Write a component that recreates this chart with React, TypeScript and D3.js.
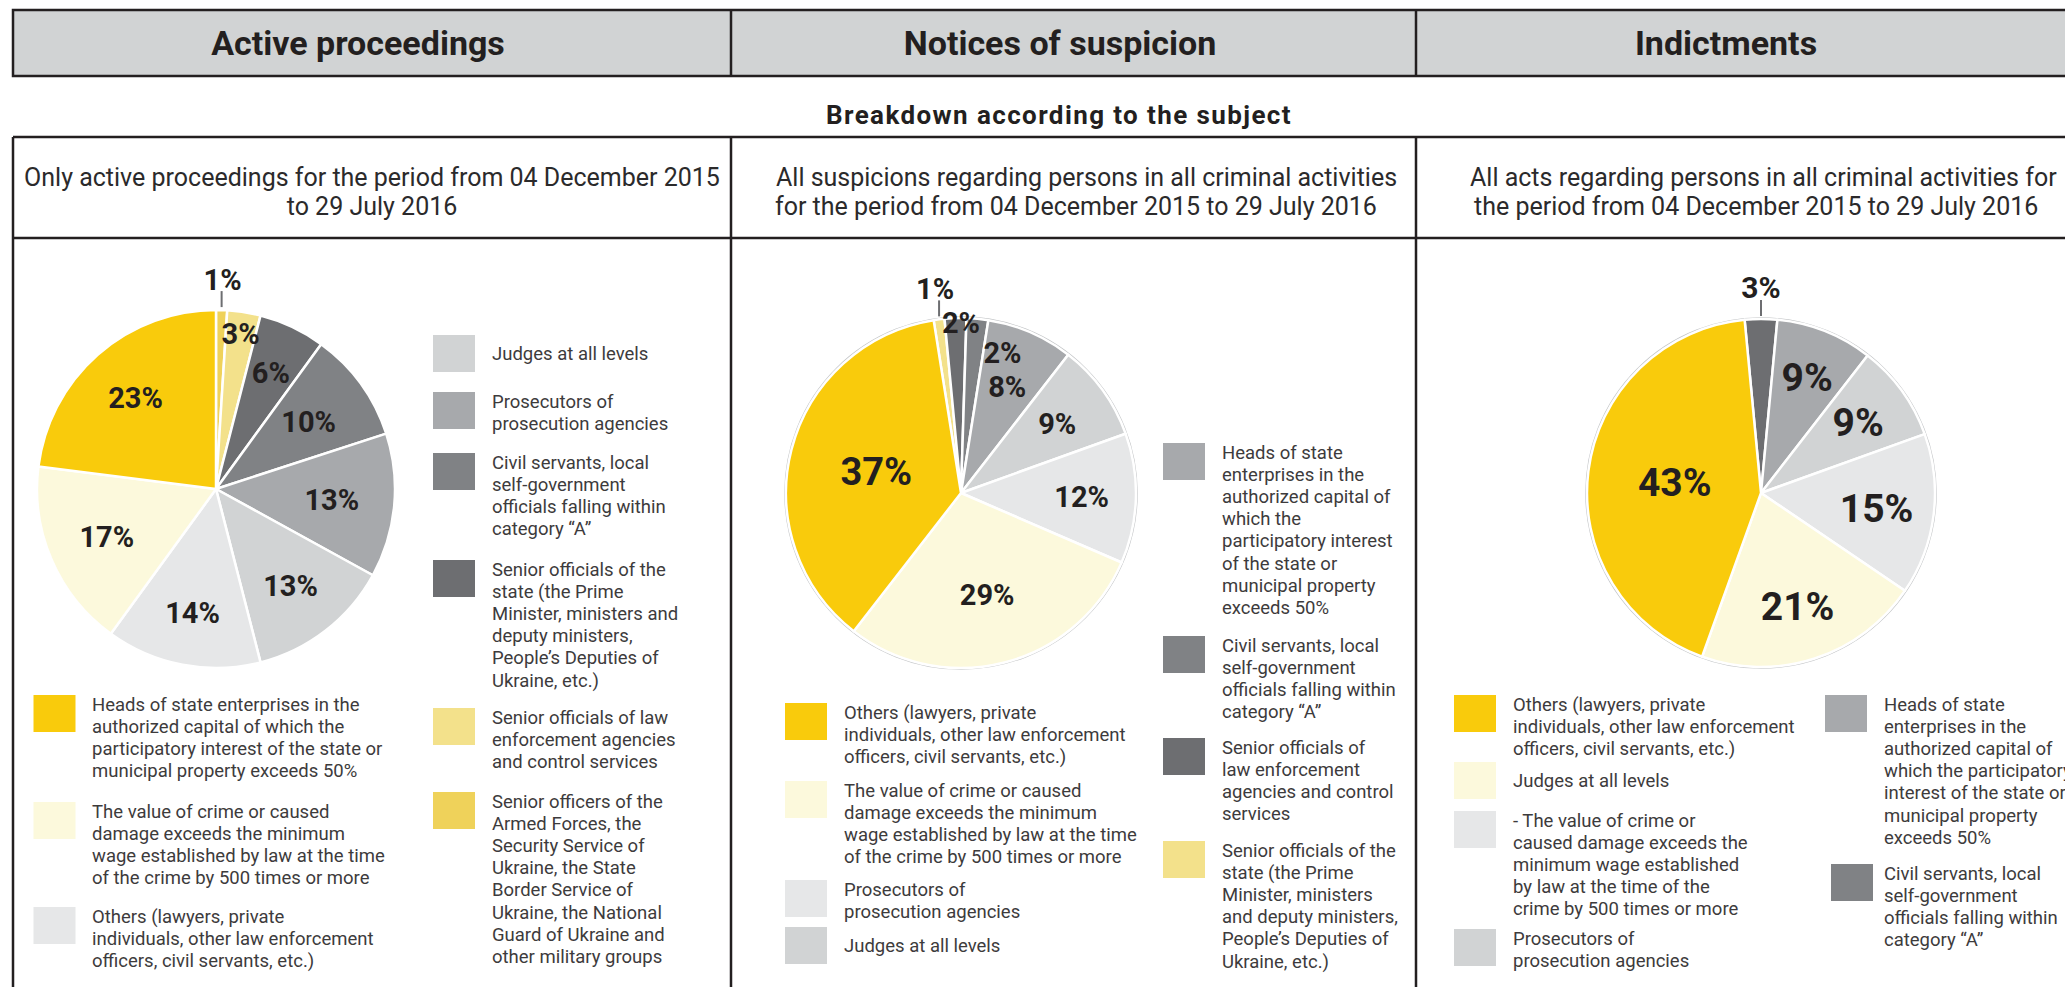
import React from "react";
import * as d3 from "d3";

// ---------- palette ----------
const YELLOW = "#f9cb0c";
const CREAM = "#fcf9dc";
const G1 = "#e6e7e8";
const G2 = "#d1d3d4";
const G3 = "#a7a9ac";
const G4 = "#808285";
const G5 = "#6d6e71";
const PALE = "#f3e18b";
const GOLD = "#efd25a";
const INK = "#231f20";
const LEGEND_INK = "#3d3b3c";

// ---------- texts ----------
const columnTitles = ["Active proceedings", "Notices of suspicion", "Indictments"];
const sectionTitle = "Breakdown according to the subject";
const subtitles = [
  ["Only active proceedings for the period from 04 December 2015", "to 29 July 2016"],
  ["All suspicions regarding persons in all criminal activities", "for the period from 04 December 2015 to 29 July 2016"],
  ["All acts regarding persons in all criminal activities for", "the period from 04 December 2015 to 29 July 2016"],
];

// ---------- pie 1: Active proceedings ----------
const activeCategories = [
  "Senior officers of the Armed Forces",
  "Senior officials of law enforcement agencies",
  "Senior officials of the state",
  "Civil servants, category A",
  "Prosecutors",
  "Judges",
  "Others",
  "Value of crime",
  "Heads of state enterprises",
];
const activeValues = [1, 3, 6, 10, 13, 13, 14, 17, 23];
const activeColors = [GOLD, PALE, G5, G4, G3, G2, G1, CREAM, YELLOW];

// ---------- pie 2: Notices of suspicion ----------
const suspicionCategories = [
  "Senior officials of the state",
  "Senior officials of law enforcement agencies",
  "Civil servants, category A",
  "Heads of state enterprises",
  "Judges",
  "Prosecutors",
  "Value of crime",
  "Others",
];
const suspicionValues = [1, 2, 2, 8, 9, 12, 29, 37];
const suspicionColors = [PALE, G5, G4, G3, G2, G1, CREAM, YELLOW];

// ---------- pie 3: Indictments ----------
const indictmentCategories = [
  "Civil servants, category A",
  "Heads of state enterprises",
  "Prosecutors",
  "Value of crime",
  "Judges",
  "Others",
];
const indictmentValues = [3, 9, 9, 15, 21, 43];
const indictmentColors = [G5, G3, G2, G1, CREAM, YELLOW];

// ---------- legends ----------
const activeLegendRight = [
  { lines: ["Judges at all levels"], color: G2 },
  { lines: ["Prosecutors of", "prosecution agencies"], color: G3 },
  { lines: ["Civil servants, local", "self-government", "officials falling within", "category \u201CA\u201D"], color: G4 },
  { lines: ["Senior officials of the", "state (the Prime", "Minister, ministers and", "deputy ministers,", "People\u2019s Deputies of", "Ukraine, etc.)"], color: G5 },
  { lines: ["Senior officials of law", "enforcement agencies", "and control services"], color: PALE },
  { lines: ["Senior officers of the", "Armed Forces, the", "Security Service of", "Ukraine, the State", "Border Service of", "Ukraine, the National", "Guard of Ukraine and", "other military groups"], color: GOLD },
];
const activeLegendBottom = [
  { lines: ["Heads of state enterprises in the", "authorized capital of which the", "participatory interest of the state or", "municipal property exceeds 50%"], color: YELLOW },
  { lines: ["The value of crime or caused", "damage exceeds the minimum", "wage established by law at the time", "of the crime by 500 times or more"], color: CREAM },
  { lines: ["Others (lawyers, private", "individuals, other law enforcement", "officers, civil servants, etc.)"], color: G1 },
];
const suspicionLegendRight = [
  { lines: ["Heads of state", "enterprises in the", "authorized capital of", "which the", "participatory interest", "of the state or", "municipal property", "exceeds 50%"], color: G3 },
  { lines: ["Civil servants, local", "self-government", "officials falling within", "category \u201CA\u201D"], color: G4 },
  { lines: ["Senior officials of", "law enforcement", "agencies and control", "services"], color: G5 },
  { lines: ["Senior officials of the", "state (the Prime", "Minister, ministers", "and deputy ministers,", "People\u2019s Deputies of", "Ukraine, etc.)"], color: PALE },
];
const suspicionLegendBottom = [
  { lines: ["Others (lawyers, private", "individuals, other law enforcement", "officers, civil servants, etc.)"], color: YELLOW },
  { lines: ["The value of crime or caused", "damage exceeds the minimum", "wage established by law at the time", "of the crime by 500 times or more"], color: CREAM },
  { lines: ["Prosecutors of", "prosecution agencies"], color: G1 },
  { lines: ["Judges at all levels"], color: G2 },
];
const indictmentLegendLeft = [
  { lines: ["Others (lawyers, private", "individuals, other law enforcement", "officers, civil servants, etc.)"], color: YELLOW },
  { lines: ["Judges at all levels"], color: CREAM },
  { lines: ["- The value of crime or", "caused damage exceeds the", "minimum wage established", "by law at the time of the", "crime by 500 times or more"], color: G1 },
  { lines: ["Prosecutors of", "prosecution agencies"], color: G2 },
];
const indictmentLegendRight = [
  { lines: ["Heads of state", "enterprises in the", "authorized capital of", "which the participatory", "interest of the state or", "municipal property", "exceeds 50%"], color: G3 },
  { lines: ["Civil servants, local", "self-government", "officials falling within", "category \u201CA\u201D"], color: G4 },
];

// ---------- layout ----------
const W = 2065;
const H = 987;
const FONT = "Roboto, 'DejaVu Sans', sans-serif";

type LabelCfg = { k: number; size?: number; angle?: number; tick?: boolean };

function Pie(props: {
  cx: number; cy: number; r: number; values: number[]; colors: string[];
  startDeg: number; labels: LabelCfg[]; defaultSize: number; outline?: boolean;
}) {
  const { cx, cy, r, values, colors, startDeg, labels, defaultSize, outline } = props;
  const s = (startDeg * Math.PI) / 180;
  const arcs = d3.pie<number>().sort(null).value((d) => d).startAngle(s).endAngle(s + 2 * Math.PI)(values);
  const arc = d3.arc<d3.PieArcDatum<number>>().innerRadius(0).outerRadius(r);
  return (
    <g transform={`translate(${cx},${cy})`}>
      {outline && <circle r={r + 1.2} fill="none" stroke="#c4c6c8" strokeWidth={1.2} />}
      {arcs.map((a, i) => (
        <path key={i} d={arc(a) || ""} fill={colors[i]} stroke="#ffffff" strokeWidth={2.5} strokeLinejoin="round" />
      ))}
      {arcs.map((a, i) => {
        const L = labels[i];
        const mid = (a.startAngle + a.endAngle) / 2;
        const ang = L.angle !== undefined ? (L.angle * Math.PI) / 180 : mid;
        const rr = r * L.k;
        const x = rr * Math.sin(ang);
        const y = -rr * Math.cos(ang);
        const tx = r * Math.sin(mid);
        const ty = -r * Math.cos(mid);
        return (
          <g key={"l" + i}>
            {L.tick && <line x1={tx} x2={tx} y1={ty - 3} y2={ty - 19} stroke={G5} strokeWidth={2} />}
            <text x={x} y={y} dy="0.36em" textAnchor="middle" fontWeight={700}
              fontSize={L.size ?? defaultSize} fill={INK} fontFamily={FONT}>
              {`${values[i]}%`}
            </text>
          </g>
        );
      })}
    </g>
  );
}

type LegendItem = { lines: string[]; color: string };

function Legend(props: { items: LegendItem[]; swatchX: number; textX: number; tops: number[]; swatchXs?: number[] }) {
  const { items, swatchX, textX, tops, swatchXs } = props;
  const SW = 42, SH = 37, LH = 22.2, FS = 18.5;
  return (
    <g>
      {items.map((it, i) => {
        const top = tops[i];
        const first = it.lines.length === 1 ? top + SH / 2 + 6.6 : top + 15.5;
        return (
          <g key={i}>
            <rect x={swatchXs ? swatchXs[i] : swatchX} y={top} width={SW} height={SH} fill={it.color} />
            <text fontFamily={FONT} fontSize={FS} fill={LEGEND_INK}>
              {it.lines.map((ln, j) => (
                <tspan key={j} x={textX} y={first + j * LH}>{ln}</tspan>
              ))}
            </text>
          </g>
        );
      })}
    </g>
  );
}

export default function App() {
  const lineStyle = { stroke: INK, strokeWidth: 2.5 };
  const pie1Labels: LabelCfg[] = [
    { k: 1.17, tick: true }, { k: 0.88 }, { k: 0.72 }, { k: 0.64 }, { k: 0.65 },
    { k: 0.68 }, { k: 0.7 }, { k: 0.665 }, { k: 0.68 },
  ];
  const pie2Labels: LabelCfg[] = [
    { k: 1.18, tick: true }, { k: 0.975, angle: 0 }, { k: 0.835, angle: 16.5 }, { k: 0.665 },
    { k: 0.68 }, { k: 0.69 }, { k: 0.6 }, { k: 0.5, size: 38 },
  ];
  const pie3Labels: LabelCfg[] = [
    { k: 1.18, tick: true, size: 30 }, { k: 0.72 }, { k: 0.69 }, { k: 0.67 }, { k: 0.68 }, { k: 0.5 },
  ];
  const colX = [13, 731, 1416];
  return (
    <div style={{ position: "fixed", left: 0, top: 0, width: W, height: H, background: "#fff" }}>
      <svg width={W} height={H} style={{ display: "block" }} fontFamily={FONT}>
        <rect x={0} y={0} width={W} height={H} fill="#ffffff" />
        {/* header band */}
        <rect x={colX[0]} y={10} width={2100} height={66} fill={G2} {...lineStyle} />
        <line x1={colX[1]} x2={colX[1]} y1={10} y2={76} {...lineStyle} />
        <line x1={colX[2]} x2={colX[2]} y1={10} y2={76} {...lineStyle} />
        {columnTitles.map((t, i) => (
          <text key={t} x={[358, 1060, 1726][i]} y={55} textAnchor="middle" fontWeight={700} fontSize={34} fill={INK}>{t}</text>
        ))}
        <text x={1059} y={124} textAnchor="middle" fontWeight={700} fontSize={26} letterSpacing={1.4} fill={INK}>{sectionTitle}</text>

        {/* lower table */}
        <line x1={colX[0]} x2={W + 10} y1={137} y2={137} {...lineStyle} />
        <line x1={colX[0]} x2={W + 10} y1={238} y2={238} {...lineStyle} />
        {colX.map((x) => (
          <line key={x} x1={x} x2={x} y1={137} y2={H + 5} {...lineStyle} />
        ))}
        <text fontSize={25} fill="#2b2a2b">
          <tspan x={372} y={186} textAnchor="middle">{subtitles[0][0]}</tspan>
          <tspan x={372} y={215} textAnchor="middle">{subtitles[0][1]}</tspan>
          <tspan x={776} y={186}>{subtitles[1][0]}</tspan>
          <tspan x={775} y={215}>{subtitles[1][1]}</tspan>
          <tspan x={1470} y={186}>{subtitles[2][0]}</tspan>
          <tspan x={1474} y={215}>{subtitles[2][1]}</tspan>
        </text>

        {/* pies */}
        <Pie cx={216} cy={489} r={179} values={activeValues} colors={activeColors} startDeg={0} labels={pie1Labels} defaultSize={29} />
        <Pie cx={961} cy={493} r={175} values={suspicionValues} colors={suspicionColors} startDeg={-9} labels={pie2Labels} defaultSize={29} outline />
        <Pie cx={1761} cy={493} r={174} values={indictmentValues} colors={indictmentColors} startDeg={-5.4} labels={pie3Labels} defaultSize={39} outline />

        {/* legends */}
        <Legend items={activeLegendRight} swatchX={433} textX={492} tops={[335, 392, 453, 560, 708, 792]} />
        <Legend items={activeLegendBottom} swatchX={33.5} textX={92} tops={[695, 802, 907]} />
        <Legend items={suspicionLegendRight} swatchX={1163} textX={1222} tops={[443, 636, 738, 841]} />
        <Legend items={suspicionLegendBottom} swatchX={785} textX={844} tops={[703, 781, 880, 927]} />
        <Legend items={indictmentLegendLeft} swatchX={1454} textX={1513} tops={[695, 762, 811, 929]} />
        <Legend items={indictmentLegendRight} swatchX={1825} textX={1884} tops={[695, 864]} swatchXs={[1825, 1831]} />
      </svg>
    </div>
  );
}
